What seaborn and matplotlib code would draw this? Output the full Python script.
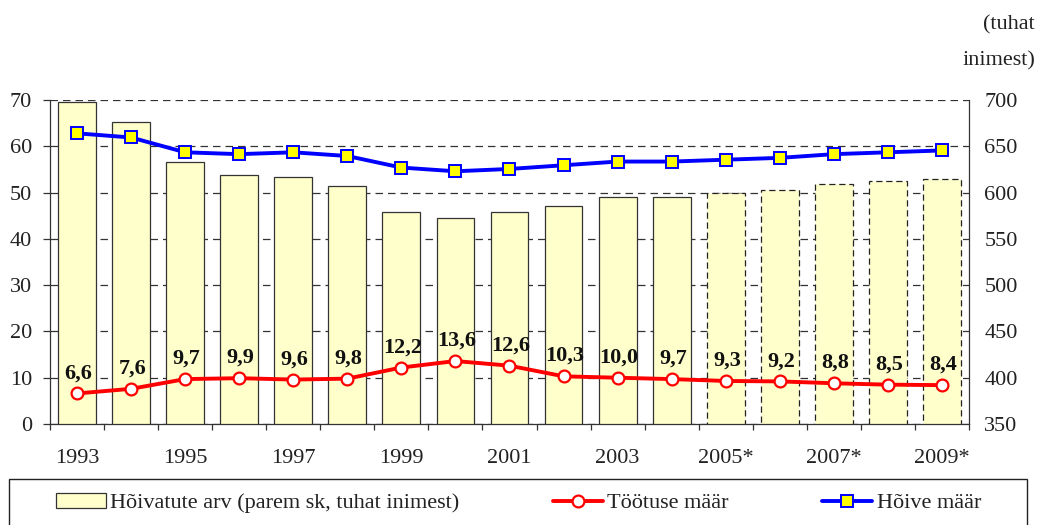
import numpy as np
import pandas as pd
import seaborn as sns
import matplotlib.pyplot as plt
from matplotlib.patches import Patch, Rectangle
from matplotlib.lines import Line2D

# --- Data ---
years = ["1993", "1994", "1995", "1996", "1997", "1998", "1999", "2000", "2001",
         "2002", "2003", "2004", "2005", "2006", "2007", "2008", "2009"]
tick_labels = ["1993", "", "1995", "", "1997", "", "1999", "", "2001",
               "", "2003", "", "2005*", "", "2007*", "", "2009*"]
employed = [698, 676, 633, 619, 617, 607, 579, 572, 579, 585, 595, 595,
            599, 603, 609, 613, 615]
unemployment_rate = [6.6, 7.6, 9.7, 9.9, 9.6, 9.8, 12.2, 13.6, 12.6, 10.3, 10.0,
                     9.7, 9.3, 9.2, 8.8, 8.5, 8.4]
employment_rate = [62.8, 61.9, 58.7, 58.3, 58.7, 57.9, 55.4, 54.6, 55.1, 55.9,
                   56.7, 56.7, 57.1, 57.5, 58.3, 58.7, 59.1]
n_forecast = 5

df = pd.DataFrame({"Aasta": years, "Hõivatute arv": employed,
                   "Töötuse määr": unemployment_rate, "Hõive määr": employment_rate})
df["pos"] = np.arange(len(df))

sns.set_style("white")
plt.rcParams["font.family"] = ["Liberation Serif", "DejaVu Serif"]
text_color = "#222222"

fig = plt.figure(figsize=(10.42, 5.25), dpi=100)
ax = fig.add_axes([50 / 1042, 1 - 424 / 525, 919 / 1042, 324 / 525])

# --- Bars: employed persons (right scale) ---
sns.barplot(data=df, x="Aasta", y="Hõivatute arv", ax=ax, color="#FFFFCC",
            edgecolor="#333333", linewidth=0.9, width=0.7, errorbar=None,
            saturation=1)
for i, p in enumerate(ax.patches):
    if i >= len(df) - n_forecast:
        p.set_linestyle((0, (5, 3)))
        p.set_edgecolor("#222222")

# --- Lines: rates (left scale) ---
ax2 = ax.twinx()
sns.lineplot(data=df, x="pos", y="Töötuse määr", ax=ax2, color="#FF0000",
             linewidth=2.8, marker="o", markersize=8.5, markerfacecolor="white",
             markeredgecolor="#FF0000", markeredgewidth=1.6, legend=False)
sns.lineplot(data=df, x="pos", y="Hõive määr", ax=ax2, color="#0000FF",
             linewidth=2.8, marker="s", markersize=8.8, markerfacecolor="#FFFF00",
             markeredgecolor="#0000FF", markeredgewidth=1.4, legend=False)

# right scale on bar axes
ax.set_ylim(350, 700)
ax.set_yticks(range(350, 701, 50))
ax.set_axisbelow(True)
ax.yaxis.grid(True, linestyle=(0, (6, 4)), color="#333333", linewidth=0.9)
ax.xaxis.grid(False)
ax.set_xlim(-0.5, len(df) - 0.5)
ax.set_xticks(df["pos"])
ax.set_xticklabels(tick_labels)
ax.set_xticks(np.arange(-0.5, len(df), 1), minor=True)
ax.tick_params(axis="x", which="major", length=0, pad=18, labelsize=16,
               labelcolor=text_color)
ax.tick_params(axis="x", which="minor", length=4.5, width=0.9, direction="out",
               color="#333333", bottom=True)
ax.tick_params(axis="y", which="major", length=0, pad=11, labelsize=16,
               labelcolor=text_color, right=True, left=False,
               labelright=True, labelleft=False)
ax.set_xlabel("")
ax.set_ylabel("")
ax.spines["top"].set_visible(False)
for s in ["left", "right", "bottom"]:
    ax.spines[s].set_visible(True)
    ax.spines[s].set_color("#333333")
    ax.spines[s].set_linewidth(0.9)

# left scale on line axes
ax2.set_ylim(0, 70)
ax2.set_yticks(range(0, 71, 10))
ax2.tick_params(axis="y", length=5, width=0.9, direction="out", color="#333333",
                pad=8, labelsize=16, labelcolor=text_color,
                left=True, right=False, labelleft=True, labelright=False)
ax2.set_xlabel("")
ax2.set_ylabel("")
for s in ax2.spines.values():
    s.set_visible(False)

for x, v in zip(df["pos"], df["Töötuse määr"]):
    ax2.annotate(f"{v:.1f}".replace(".", ","), (x, v), xytext=(1, 11),
                 textcoords="offset points", ha="center", va="baseline",
                 fontsize=16, fontweight="bold", color="#111111")

# --- Unit note ---
fig.text(1035 / 1042, 1 - 29 / 525, "(tuhat", ha="right", va="baseline",
         fontsize=16, color=text_color)
fig.text(1035 / 1042, 1 - 65 / 525, "inimest)", ha="right", va="baseline",
         fontsize=16, color=text_color)

# --- Legend ---
handles = [
    Patch(facecolor="#FFFFCC", edgecolor="#333333", linewidth=0.9),
    Line2D([], [], color="#FF0000", linewidth=2.8, marker="o", markersize=8.5,
           markerfacecolor="white", markeredgecolor="#FF0000", markeredgewidth=1.6),
    Line2D([], [], color="#0000FF", linewidth=2.8, marker="s", markersize=8.8,
           markerfacecolor="#FFFF00", markeredgecolor="#0000FF", markeredgewidth=1.4),
]
labels = ["Hõivatute arv (parem sk, tuhat inimest)", "Töötuse määr", "Hõive määr"]
leg = fig.legend(handles, labels, loc="center left", ncol=3,
                 bbox_to_anchor=(56 / 1042, 1 - 503 / 525), frameon=False,
                 fontsize=16, handlelength=2.25, handletextpad=0.2,
                 columnspacing=4.2, borderpad=0, borderaxespad=0)
for t in leg.get_texts():
    t.set_color(text_color)
fig.patches.append(Rectangle((9 / 1042, -0.05), 1018 / 1042, 0.05 + 46 / 525,
                             transform=fig.transFigure, fill=False,
                             edgecolor="#222222", linewidth=1.0))

fig.savefig("out.png", dpi=100)
